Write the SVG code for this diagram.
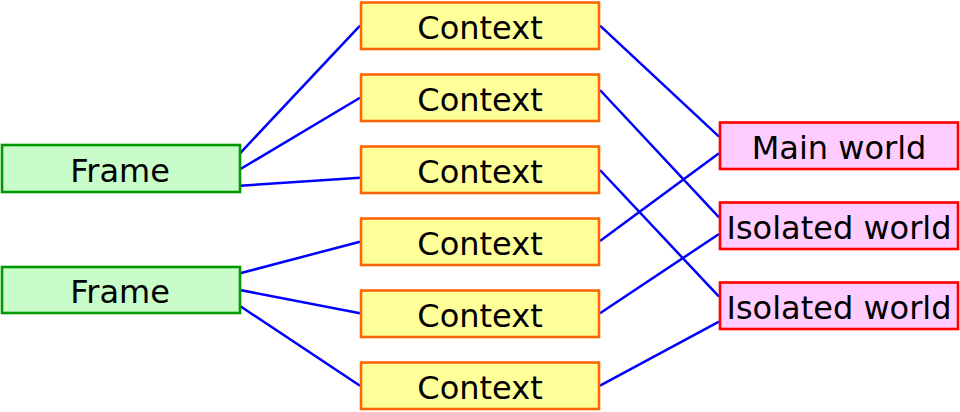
<svg xmlns="http://www.w3.org/2000/svg" width="960" height="412" viewBox="0 0 960 412">
<style>
.frame rect{fill:#c8fcc8;stroke:#009900;stroke-width:2.6}
.ctx rect{fill:#ffff99;stroke:#ff6600;stroke-width:2.6}
.world rect{fill:#ffccff;stroke:#ff0000;stroke-width:2.6}
text{font-family:"DejaVu Sans",sans-serif;font-size:32px;fill:#000;text-anchor:middle}
#connectors line{stroke:#0000ff;stroke-width:2.5}
</style>
<rect width="960" height="412" fill="#fff"/>
<g id="connectors">
<line x1="240" y1="153.3" x2="360" y2="25.7"/>
<line x1="240" y1="169.3" x2="360" y2="97.7"/>
<line x1="240" y1="185.7" x2="360" y2="177.7"/>
<line x1="240" y1="273.3" x2="360" y2="241.7"/>
<line x1="240" y1="290" x2="360" y2="313.3"/>
<line x1="240" y1="306" x2="360" y2="385.7"/>
<line x1="600" y1="25.7" x2="719" y2="136.7"/>
<line x1="600" y1="90" x2="719" y2="217.3"/>
<line x1="600" y1="170" x2="719" y2="296.7"/>
<line x1="600" y1="241" x2="719" y2="153.3"/>
<line x1="600" y1="313.3" x2="719" y2="234"/>
<line x1="600" y1="385.7" x2="719" y2="321.7"/>
</g>
<g id="frame1" class="frame"><rect x="2" y="145" width="238" height="47"/><text x="120" y="181.5">Frame</text></g>
<g id="frame2" class="frame"><rect x="2" y="267" width="238" height="46"/><text x="120" y="303">Frame</text></g>
<g id="context1" class="ctx"><rect x="361" y="2.5" width="238" height="46.5"/><text x="480" y="38.7">Context</text></g>
<g id="context2" class="ctx"><rect x="361" y="74.5" width="238" height="46.5"/><text x="480" y="110.7">Context</text></g>
<g id="context3" class="ctx"><rect x="361" y="146.5" width="238" height="46.5"/><text x="480" y="182.7">Context</text></g>
<g id="context4" class="ctx"><rect x="361" y="218.5" width="238" height="46.5"/><text x="480" y="254.7">Context</text></g>
<g id="context5" class="ctx"><rect x="361" y="290.5" width="238" height="46.5"/><text x="480" y="326.7">Context</text></g>
<g id="context6" class="ctx"><rect x="361" y="362.5" width="238" height="46.5"/><text x="480" y="398.7">Context</text></g>
<g id="mainworld" class="world"><rect x="720" y="122.5" width="238" height="46.5"/><text x="839" y="158.7">Main world</text></g>
<g id="isolated1" class="world"><rect x="720" y="202.5" width="238" height="46.5"/><text x="839" y="238.7">Isolated world</text></g>
<g id="isolated2" class="world"><rect x="720" y="282.5" width="238" height="46.5"/><text x="839" y="318.7">Isolated world</text></g>
</svg>
